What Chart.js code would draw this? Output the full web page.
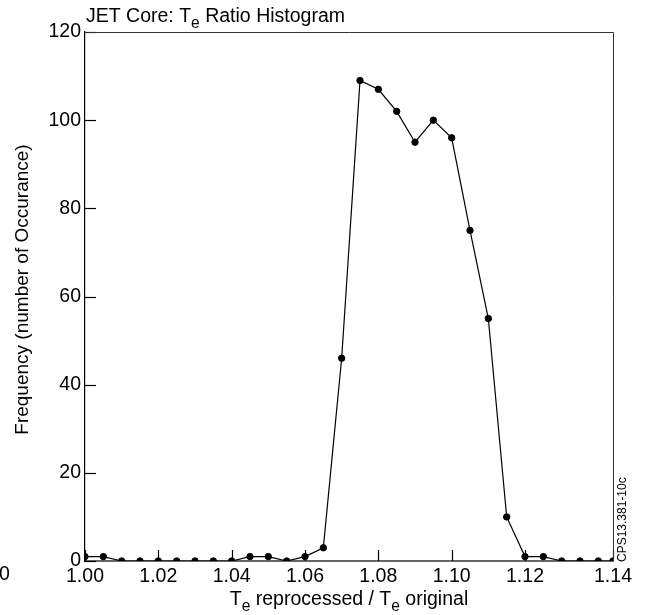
<!DOCTYPE html>
<html>
<head>
<meta charset="utf-8">
<title>JET Core: Te Ratio Histogram</title>
<script src="https://cdn.jsdelivr.net/npm/chart.js@4.4.1/dist/chart.umd.min.js"></script>
<style>
  html, body { margin: 0; padding: 0; background: #fff; }
  #grafico { display: block; }
</style>
</head>
<body>
<canvas id="grafico" width="647" height="615"></canvas>
<script>
// Te reprocessed / Te original, bin centres
const ratios = [1.000, 1.005, 1.010, 1.015, 1.020, 1.025, 1.030, 1.035, 1.040, 1.045,
                1.050, 1.055, 1.060, 1.065, 1.070, 1.075, 1.080, 1.085, 1.090, 1.095,
                1.100, 1.105, 1.110, 1.115, 1.120, 1.125, 1.130, 1.135, 1.140, 1.144];
// number of occurances per bin
const counts = [1, 1, 0, 0, 0, 0, 0, 0, 0, 1,
                1, 0, 1, 3, 46, 109, 107, 102, 95, 100,
                96, 75, 55, 10, 1, 1, 0, 0, 0, 0];

const xTicks = [1.00, 1.02, 1.04, 1.06, 1.08, 1.10, 1.12, 1.144];
const xTickLabels = ['1.00', '1.02', '1.04', '1.06', '1.08', '1.10', '1.12', '1.14'];
const yTicks = [0, 20, 40, 60, 80, 100, 120];

const fontFamily = '"Liberation Sans", Arial, Helvetica, sans-serif';

// [text, isSubscript]
const chartTitle = [['JET Core: T'], ['e', true], [' Ratio Histogram']];
const xTitle = [['T'], ['e', true], [' reprocessed / T'], ['e', true], [' original']];
const yTitle = 'Frequency (number of Occurance)';
const figureCode = 'CPS13.381-10c';

function drawParts(ctx, parts, x, y, size, align) {
    const subSize = size * 0.8;
    let width = 0;
    parts.forEach(([text, sub]) => {
        ctx.font = `${sub ? subSize : size}px ${fontFamily}`;
        width += ctx.measureText(text).width;
    });
    let cx = align === 'center' ? x - width / 2 : x;
    ctx.textAlign = 'left';
    ctx.textBaseline = 'alphabetic';
    parts.forEach(([text, sub]) => {
        ctx.font = `${sub ? subSize : size}px ${fontFamily}`;
        ctx.fillText(text, cx, sub ? y + size * 0.3 : y);
        cx += ctx.measureText(text).width;
    });
}

// inward tick marks, frame and the text labels
const decorations = {
    id: 'decorations',
    afterDraw(chart) {
        const { ctx, chartArea: area, scales } = chart;
        ctx.save();
        ctx.setLineDash([]);
        ctx.strokeStyle = '#000';
        ctx.lineWidth = 1.2;
        xTicks.forEach((v) => {
            const px = Math.round(scales.x.getPixelForValue(v)) + 0.5;
            ctx.beginPath();
            ctx.moveTo(px, area.bottom);
            ctx.lineTo(px, area.bottom - 11);
            ctx.stroke();
        });
        yTicks.forEach((v) => {
            const py = Math.round(scales.y.getPixelForValue(v)) + 0.5;
            ctx.beginPath();
            ctx.moveTo(area.left, py);
            ctx.lineTo(area.left + 11, py);
            ctx.stroke();
        });

        ctx.strokeStyle = '#333';
        ctx.lineWidth = 1;
        ctx.beginPath();
        ctx.moveTo(area.left, area.top + 0.5);
        ctx.lineTo(area.right + 0.5, area.top + 0.5);
        ctx.lineTo(area.right + 0.5, area.bottom);
        ctx.stroke();

        ctx.fillStyle = '#000';
        drawParts(ctx, chartTitle, area.left + 1, area.top - 10, 19.5, 'left');
        drawParts(ctx, xTitle, (area.left + area.right) / 2, area.bottom + 44, 19.5, 'center');

        ctx.save();
        ctx.translate(28, (area.top + area.bottom) / 2 - 7);
        ctx.rotate(-Math.PI / 2);
        ctx.font = `19px ${fontFamily}`;
        ctx.textAlign = 'center';
        ctx.textBaseline = 'alphabetic';
        ctx.fillText(yTitle, 0, 0);
        ctx.restore();

        ctx.save();
        ctx.translate(area.right + 13, area.bottom + 1);
        ctx.rotate(-Math.PI / 2);
        ctx.font = `12px ${fontFamily}`;
        ctx.textAlign = 'left';
        ctx.fillText(figureCode, 0, 0);
        ctx.restore();

        // stray label left over at the lower left corner
        ctx.font = `19.5px ${fontFamily}`;
        ctx.textAlign = 'left';
        ctx.textBaseline = 'middle';
        ctx.fillText('0', -1, area.bottom + 14);
        ctx.restore();
    }
};

const grafico = new Chart(document.getElementById('grafico'), {
    type: 'line',
    data: {
        datasets: [{
            label: 'Frequency',
            data: ratios.map((r, i) => ({ x: r, y: counts[i] })),
            borderColor: '#000',
            borderWidth: 1.2,
            backgroundColor: '#000',
            pointBackgroundColor: '#000',
            pointBorderColor: '#000',
            pointRadius: 3.2,
            pointBorderWidth: 1,
            tension: 0
        }]
    },
    options: {
        responsive: false,
        animation: false,
        layout: { padding: { top: 32, right: 34, left: 0, bottom: 0 } },
        plugins: {
            legend: { display: false },
            tooltip: { enabled: false }
        },
        scales: {
            x: {
                type: 'linear',
                min: 1.0,
                max: 1.144,
                afterBuildTicks: (scale) => { scale.ticks = xTicks.map((v) => ({ value: v })); },
                afterFit: (scale) => { scale.height = 54; },
                ticks: {
                    callback: (value, index) => xTickLabels[index],
                    color: '#000',
                    padding: 4,
                    maxRotation: 0,
                    autoSkip: false,
                    font: { family: fontFamily, size: 19.5 }
                },
                grid: { display: true, drawOnChartArea: false, drawTicks: false, color: 'rgba(0,0,0,0)' },
                border: { display: true, color: '#666', width: 2 }
            },
            y: {
                min: 0,
                max: 120,
                afterBuildTicks: (scale) => { scale.ticks = yTicks.map((v) => ({ value: v })); },
                afterFit: (scale) => { scale.width = 85; },
                ticks: {
                    color: '#000',
                    padding: 4,
                    font: { family: fontFamily, size: 19.5 }
                },
                grid: { display: true, drawOnChartArea: false, drawTicks: false, color: 'rgba(0,0,0,0)' },
                border: { display: true, color: '#000', width: 1.2 }
            }
        }
    },
    plugins: [decorations]
});
</script>
</body>
</html>
